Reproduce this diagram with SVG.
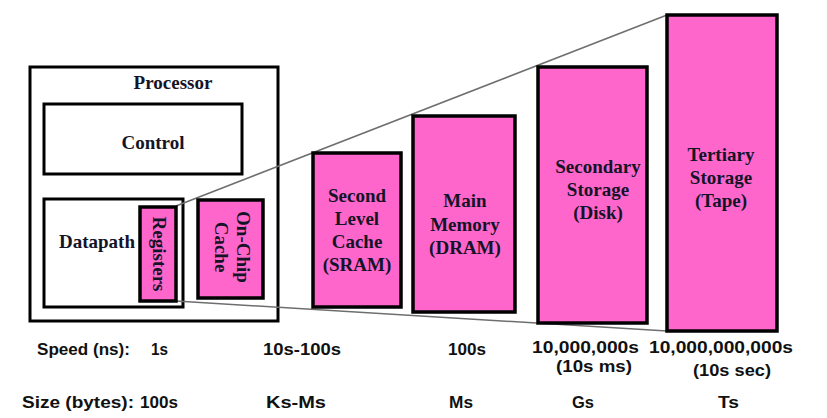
<svg xmlns="http://www.w3.org/2000/svg" width="827" height="418" viewBox="0 0 827 418">
<style>
.box{fill:#ffffff;stroke:#000;stroke-width:3}
.pink{fill:#ff66cc;stroke:#000;stroke-width:3.5}
.lbl{font-family:"Liberation Serif","Times New Roman",serif;font-weight:bold;font-size:19px;fill:#141428;text-anchor:middle}
.row{font-family:"Comic Sans MS","Liberation Sans",Arial,sans-serif;font-weight:bold;font-size:16.5px;fill:#111}
.conn{stroke:#6e6e6e;stroke-width:1.5;fill:none}
</style>
<rect width="827" height="418" fill="#fff"/>
<g id="processor">
<rect class="box" x="30" y="67" width="248" height="254"/>
<text class="lbl" x="173" y="89">Processor</text>
</g>
<g id="control">
<rect class="box" x="44" y="104" width="198" height="70"/>
<text class="lbl" x="153" y="149">Control</text>
</g>
<g id="datapath">
<rect class="box" x="44" y="199" width="139" height="108"/>
<text class="lbl" x="97" y="248">Datapath</text>
</g>
<g id="connectors">
<line class="conn" x1="176" y1="206" x2="667" y2="15"/>
<line class="conn" x1="176" y1="301" x2="667" y2="331"/>
</g>
<g id="registers">
<rect class="pink" x="140" y="207" width="36" height="94"/>
<text class="lbl" transform="translate(153,254) rotate(90)" x="0" y="0">Registers</text>
</g>
<g id="onchip-cache">
<rect class="pink" x="198" y="200" width="65" height="98"/>
<text class="lbl" transform="translate(237,247) rotate(90)" x="0" y="0">On-Chip</text>
<text class="lbl" transform="translate(215,247) rotate(90)" x="0" y="0">Cache</text>
</g>
<g id="second-level-cache">
<rect class="pink" x="313" y="153" width="88" height="154"/>
<text class="lbl" x="357" y="202">Second</text>
<text class="lbl" x="357" y="225">Level</text>
<text class="lbl" x="357" y="248">Cache</text>
<text class="lbl" x="357" y="271">(SRAM)</text>
</g>
<g id="main-memory">
<rect class="pink" x="413" y="116" width="102" height="196"/>
<text class="lbl" x="465" y="207">Main</text>
<text class="lbl" x="465" y="231">Memory</text>
<text class="lbl" x="465" y="254">(DRAM)</text>
</g>
<g id="secondary-storage">
<rect class="pink" x="538" y="67" width="109" height="256"/>
<text class="lbl" x="598" y="173">Secondary</text>
<text class="lbl" x="598" y="196">Storage</text>
<text class="lbl" x="598" y="219">(Disk)</text>
</g>
<g id="tertiary-storage">
<rect class="pink" x="667" y="15" width="110" height="316"/>
<text class="lbl" x="721" y="161">Tertiary</text>
<text class="lbl" x="721" y="184">Storage</text>
<text class="lbl" x="721" y="207">(Tape)</text>
</g>
<g id="speed-row">
<text class="row" x="37" y="355" textLength="93" lengthAdjust="spacingAndGlyphs">Speed (ns):</text>
<text class="row" x="151" y="355" textLength="17" lengthAdjust="spacingAndGlyphs">1s</text>
<text class="row" x="263" y="355" textLength="78" lengthAdjust="spacingAndGlyphs">10s-100s</text>
<text class="row" x="448" y="355" textLength="38" lengthAdjust="spacingAndGlyphs">100s</text>
<text class="row" x="532" y="353" textLength="107" lengthAdjust="spacingAndGlyphs">10,000,000s</text>
<text class="row" x="556" y="372" textLength="76" lengthAdjust="spacingAndGlyphs">(10s ms)</text>
<text class="row" x="649" y="353" textLength="144" lengthAdjust="spacingAndGlyphs">10,000,000,000s</text>
<text class="row" x="693" y="376" textLength="78" lengthAdjust="spacingAndGlyphs">(10s sec)</text>
</g>
<g id="size-row">
<text class="row" x="22" y="408" textLength="112" lengthAdjust="spacingAndGlyphs">Size (bytes):</text>
<text class="row" x="140" y="408" textLength="38" lengthAdjust="spacingAndGlyphs">100s</text>
<text class="row" x="266" y="408" textLength="60" lengthAdjust="spacingAndGlyphs">Ks-Ms</text>
<text class="row" x="449" y="408" textLength="24" lengthAdjust="spacingAndGlyphs">Ms</text>
<text class="row" x="572" y="408" textLength="22" lengthAdjust="spacingAndGlyphs">Gs</text>
<text class="row" x="718" y="408" textLength="21" lengthAdjust="spacingAndGlyphs">Ts</text>
</g>
</svg>
